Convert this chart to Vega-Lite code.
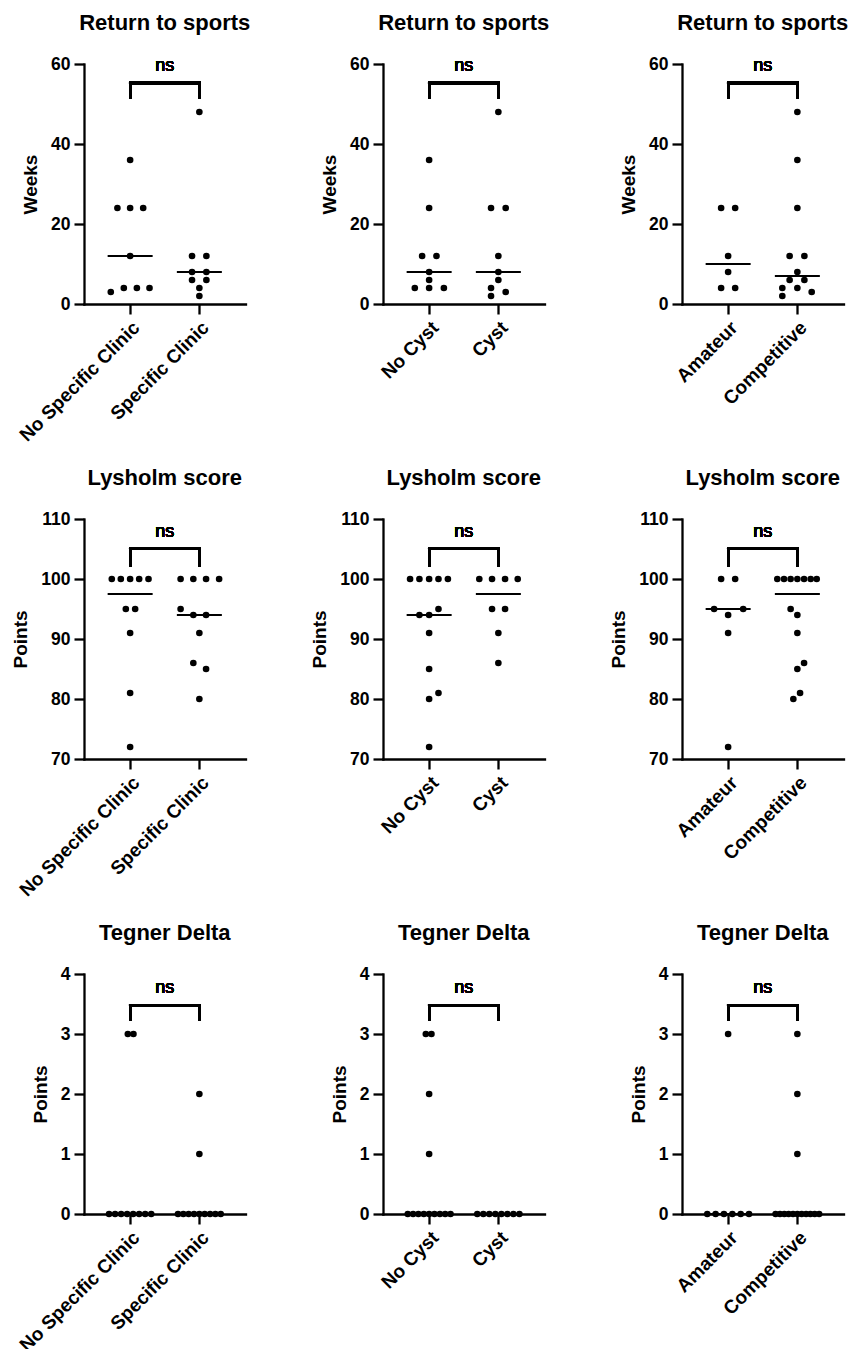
{
"$schema": "https://vega.github.io/schema/vega-lite/v6.json",
"padding": {"left": 11, "top": 12, "right": 5, "bottom": 5},
"background": "white",
"datasets": {
"a1": [
{"g":"No Specific Clinic","v":36,"j":0},{"g":"No Specific Clinic","v":24,"j":-12.7},{"g":"No Specific Clinic","v":24,"j":0},{"g":"No Specific Clinic","v":24,"j":13},{"g":"No Specific Clinic","v":12,"j":0},{"g":"No Specific Clinic","v":4,"j":-6.3},{"g":"No Specific Clinic","v":4,"j":6.7},{"g":"No Specific Clinic","v":4,"j":19.3},{"g":"No Specific Clinic","v":3,"j":-19.3},
{"g":"Specific Clinic","v":48,"j":0},{"g":"Specific Clinic","v":12,"j":-7.3},{"g":"Specific Clinic","v":12,"j":7},{"g":"Specific Clinic","v":8,"j":-7.3},{"g":"Specific Clinic","v":8,"j":7},{"g":"Specific Clinic","v":6,"j":-7.3},{"g":"Specific Clinic","v":6,"j":7},{"g":"Specific Clinic","v":4,"j":0},{"g":"Specific Clinic","v":2,"j":0}],
"a2": [
{"g":"No Cyst","v":36,"j":0},{"g":"No Cyst","v":24,"j":0},{"g":"No Cyst","v":12,"j":-7},{"g":"No Cyst","v":12,"j":7.3},{"g":"No Cyst","v":8,"j":0},{"g":"No Cyst","v":6,"j":0},{"g":"No Cyst","v":4,"j":-14.3},{"g":"No Cyst","v":4,"j":0},{"g":"No Cyst","v":4,"j":14.7},
{"g":"Cyst","v":48,"j":0},{"g":"Cyst","v":24,"j":-7.3},{"g":"Cyst","v":24,"j":7.3},{"g":"Cyst","v":12,"j":0},{"g":"Cyst","v":8,"j":0},{"g":"Cyst","v":6,"j":0},{"g":"Cyst","v":4,"j":-7.3},{"g":"Cyst","v":3,"j":7.3},{"g":"Cyst","v":2,"j":-7.3}],
"a3": [
{"g":"Amateur","v":24,"j":-7},{"g":"Amateur","v":24,"j":7},{"g":"Amateur","v":12,"j":0},{"g":"Amateur","v":8,"j":0},{"g":"Amateur","v":4,"j":-7},{"g":"Amateur","v":4,"j":7},
{"g":"Competitive","v":48,"j":0},{"g":"Competitive","v":36,"j":0},{"g":"Competitive","v":24,"j":0},{"g":"Competitive","v":12,"j":-7.7},{"g":"Competitive","v":12,"j":7},{"g":"Competitive","v":8,"j":0},{"g":"Competitive","v":6,"j":-7.7},{"g":"Competitive","v":6,"j":7},{"g":"Competitive","v":4,"j":-15},{"g":"Competitive","v":4,"j":0},{"g":"Competitive","v":3,"j":14.3},{"g":"Competitive","v":2,"j":-15}],
"b1": [
{"g":"No Specific Clinic","v":100,"j":-18.3},{"g":"No Specific Clinic","v":100,"j":-9.3},{"g":"No Specific Clinic","v":100,"j":0},{"g":"No Specific Clinic","v":100,"j":9},{"g":"No Specific Clinic","v":100,"j":18.3},{"g":"No Specific Clinic","v":95,"j":-4.3},{"g":"No Specific Clinic","v":95,"j":5},{"g":"No Specific Clinic","v":91,"j":0},{"g":"No Specific Clinic","v":81,"j":0},{"g":"No Specific Clinic","v":72,"j":0},
{"g":"Specific Clinic","v":100,"j":-18.7},{"g":"Specific Clinic","v":100,"j":-6},{"g":"Specific Clinic","v":100,"j":6.7},{"g":"Specific Clinic","v":100,"j":19.7},{"g":"Specific Clinic","v":95,"j":-18.7},{"g":"Specific Clinic","v":94,"j":-6},{"g":"Specific Clinic","v":94,"j":6.7},{"g":"Specific Clinic","v":91,"j":0},{"g":"Specific Clinic","v":86,"j":-6},{"g":"Specific Clinic","v":85,"j":6.7},{"g":"Specific Clinic","v":80,"j":0}],
"b2": [
{"g":"No Cyst","v":100,"j":-19},{"g":"No Cyst","v":100,"j":-9.7},{"g":"No Cyst","v":100,"j":0},{"g":"No Cyst","v":100,"j":9.3},{"g":"No Cyst","v":100,"j":18.7},{"g":"No Cyst","v":95,"j":9.3},{"g":"No Cyst","v":94,"j":-9.7},{"g":"No Cyst","v":94,"j":0},{"g":"No Cyst","v":91,"j":0},{"g":"No Cyst","v":85,"j":0},{"g":"No Cyst","v":81,"j":9.3},{"g":"No Cyst","v":80,"j":0},{"g":"No Cyst","v":72,"j":0},
{"g":"Cyst","v":100,"j":-19},{"g":"Cyst","v":100,"j":-6.3},{"g":"Cyst","v":100,"j":6.7},{"g":"Cyst","v":100,"j":19.3},{"g":"Cyst","v":95,"j":-6.3},{"g":"Cyst","v":95,"j":6.7},{"g":"Cyst","v":91,"j":0},{"g":"Cyst","v":86,"j":0}],
"b3": [
{"g":"Amateur","v":100,"j":-7},{"g":"Amateur","v":100,"j":7},{"g":"Amateur","v":95,"j":-14},{"g":"Amateur","v":95,"j":15},{"g":"Amateur","v":94,"j":0},{"g":"Amateur","v":91,"j":0},{"g":"Amateur","v":72,"j":0},
{"g":"Competitive","v":100,"j":-20},{"g":"Competitive","v":100,"j":-13.3},{"g":"Competitive","v":100,"j":-6.7},{"g":"Competitive","v":100,"j":0},{"g":"Competitive","v":100,"j":6.7},{"g":"Competitive","v":100,"j":13.3},{"g":"Competitive","v":100,"j":19.3},{"g":"Competitive","v":95,"j":-6.7},{"g":"Competitive","v":94,"j":0},{"g":"Competitive","v":91,"j":0},{"g":"Competitive","v":86,"j":6.7},{"g":"Competitive","v":85,"j":0},{"g":"Competitive","v":81,"j":2.7},{"g":"Competitive","v":80,"j":-4}],
"c1": [
{"g":"No Specific Clinic","v":3,"j":-2.3},{"g":"No Specific Clinic","v":3,"j":3.3},{"g":"No Specific Clinic","v":0,"j":-21},{"g":"No Specific Clinic","v":0,"j":-15},{"g":"No Specific Clinic","v":0,"j":-9},{"g":"No Specific Clinic","v":0,"j":-3},{"g":"No Specific Clinic","v":0,"j":3},{"g":"No Specific Clinic","v":0,"j":9},{"g":"No Specific Clinic","v":0,"j":15},{"g":"No Specific Clinic","v":0,"j":21},
{"g":"Specific Clinic","v":2,"j":0},{"g":"Specific Clinic","v":1,"j":0},{"g":"Specific Clinic","v":0,"j":-21.3},{"g":"Specific Clinic","v":0,"j":-16},{"g":"Specific Clinic","v":0,"j":-10.7},{"g":"Specific Clinic","v":0,"j":-5.3},{"g":"Specific Clinic","v":0,"j":0},{"g":"Specific Clinic","v":0,"j":5.3},{"g":"Specific Clinic","v":0,"j":10.7},{"g":"Specific Clinic","v":0,"j":16},{"g":"Specific Clinic","v":0,"j":21.3}],
"c2": [
{"g":"No Cyst","v":3,"j":-3.3},{"g":"No Cyst","v":3,"j":2.3},{"g":"No Cyst","v":2,"j":0},{"g":"No Cyst","v":1,"j":0},{"g":"No Cyst","v":0,"j":-21.3},{"g":"No Cyst","v":0,"j":-16},{"g":"No Cyst","v":0,"j":-10.7},{"g":"No Cyst","v":0,"j":-5.3},{"g":"No Cyst","v":0,"j":0},{"g":"No Cyst","v":0,"j":5.3},{"g":"No Cyst","v":0,"j":10.7},{"g":"No Cyst","v":0,"j":16},{"g":"No Cyst","v":0,"j":21.3},
{"g":"Cyst","v":0,"j":-21},{"g":"Cyst","v":0,"j":-15},{"g":"Cyst","v":0,"j":-9},{"g":"Cyst","v":0,"j":-3},{"g":"Cyst","v":0,"j":3},{"g":"Cyst","v":0,"j":9},{"g":"Cyst","v":0,"j":15},{"g":"Cyst","v":0,"j":21}],
"c3": [
{"g":"Amateur","v":3,"j":0},{"g":"Amateur","v":0,"j":-20.8},{"g":"Amateur","v":0,"j":-12.5},{"g":"Amateur","v":0,"j":-4.2},{"g":"Amateur","v":0,"j":4.2},{"g":"Amateur","v":0,"j":12.5},{"g":"Amateur","v":0,"j":20.8},
{"g":"Competitive","v":3,"j":0},{"g":"Competitive","v":2,"j":0},{"g":"Competitive","v":1,"j":0},{"g":"Competitive","v":0,"j":-21.7},{"g":"Competitive","v":0,"j":-17.3},{"g":"Competitive","v":0,"j":-13},{"g":"Competitive","v":0,"j":-8.7},{"g":"Competitive","v":0,"j":-4.3},{"g":"Competitive","v":0,"j":0},{"g":"Competitive","v":0,"j":4.3},{"g":"Competitive","v":0,"j":8.7},{"g":"Competitive","v":0,"j":13},{"g":"Competitive","v":0,"j":17.3},{"g":"Competitive","v":0,"j":21.7}]
},
"columns": 3,
"bounds": "flush",
"spacing": {"row": 215, "column": 137},
"concat": [
{"title": "Return to sports", "width": 161.5, "height": 240, "data": {"name": "a1"},
 "layer": [
  {"mark": {"type": "circle", "size": 44, "color": "black", "opacity": 1},
   "encoding": {"x": {"field": "g", "type": "nominal", "scale": {"domain": ["No Specific Clinic", "Specific Clinic"], "paddingInner": 0, "paddingOuter": 0.1667}, "axis": {"title": null}},
    "xOffset": {"field": "j", "type": "quantitative", "scale": {"domain": [-34.5, 34.5]}},
    "y": {"field": "v", "type": "quantitative", "scale": {"domain": [0, 60], "nice": false, "zero": false}, "axis": {"title": "Weeks", "values": [0, 20, 40, 60], "format": "d"}}}},
  {"mark": {"type": "tick", "size": 45, "thickness": 2.2, "color": "black"},
   "encoding": {"x": {"field": "g", "type": "nominal"}, "y": {"aggregate": "median", "field": "v", "type": "quantitative"}}},
  {"mark": {"type": "rule", "strokeWidth": 2.3, "strokeCap": "square", "color": "black"},
   "encoding": {"x": {"datum": "No Specific Clinic", "type": "nominal", "bandPosition": 0.5}, "x2": {"datum": "Specific Clinic"}, "y": {"datum": 55.25, "type": "quantitative"}}},
  {"mark": {"type": "rule", "strokeWidth": 2.3, "strokeCap": "square", "color": "black"},
   "encoding": {"x": {"datum": "No Specific Clinic", "type": "nominal", "bandPosition": 0.5}, "y": {"datum": 51.6, "type": "quantitative"}, "y2": {"datum": 55.25}}},
  {"mark": {"type": "rule", "strokeWidth": 2.3, "strokeCap": "square", "color": "black"},
   "encoding": {"x": {"datum": "Specific Clinic", "type": "nominal", "bandPosition": 0.5}, "y": {"datum": 51.6, "type": "quantitative"}, "y2": {"datum": 55.25}}},
  {"mark": {"type": "text", "text": "ns", "fontSize": 18, "fontWeight": "normal", "baseline": "alphabetic", "color": "black"},
   "encoding": {"x": {"datum": "No Specific Clinic", "type": "nominal", "bandPosition": 1}, "y": {"datum": 58.3, "type": "quantitative"}}}
 ]},
{"title": "Return to sports", "width": 161.5, "height": 240, "data": {"name": "a2"},
 "layer": [
  {"mark": {"type": "circle", "size": 44, "color": "black", "opacity": 1},
   "encoding": {"x": {"field": "g", "type": "nominal", "scale": {"domain": ["No Cyst", "Cyst"], "paddingInner": 0, "paddingOuter": 0.1667}, "axis": {"title": null}},
    "xOffset": {"field": "j", "type": "quantitative", "scale": {"domain": [-34.5, 34.5]}},
    "y": {"field": "v", "type": "quantitative", "scale": {"domain": [0, 60], "nice": false, "zero": false}, "axis": {"title": "Weeks", "values": [0, 20, 40, 60], "format": "d"}}}},
  {"mark": {"type": "tick", "size": 45, "thickness": 2.2, "color": "black"},
   "encoding": {"x": {"field": "g", "type": "nominal"}, "y": {"aggregate": "median", "field": "v", "type": "quantitative"}}},
  {"mark": {"type": "rule", "strokeWidth": 2.3, "strokeCap": "square", "color": "black"},
   "encoding": {"x": {"datum": "No Cyst", "type": "nominal", "bandPosition": 0.5}, "x2": {"datum": "Cyst"}, "y": {"datum": 55.25, "type": "quantitative"}}},
  {"mark": {"type": "rule", "strokeWidth": 2.3, "strokeCap": "square", "color": "black"},
   "encoding": {"x": {"datum": "No Cyst", "type": "nominal", "bandPosition": 0.5}, "y": {"datum": 51.6, "type": "quantitative"}, "y2": {"datum": 55.25}}},
  {"mark": {"type": "rule", "strokeWidth": 2.3, "strokeCap": "square", "color": "black"},
   "encoding": {"x": {"datum": "Cyst", "type": "nominal", "bandPosition": 0.5}, "y": {"datum": 51.6, "type": "quantitative"}, "y2": {"datum": 55.25}}},
  {"mark": {"type": "text", "text": "ns", "fontSize": 18, "fontWeight": "normal", "baseline": "alphabetic", "color": "black"},
   "encoding": {"x": {"datum": "No Cyst", "type": "nominal", "bandPosition": 1}, "y": {"datum": 58.3, "type": "quantitative"}}}
 ]},
{"title": "Return to sports", "width": 161.5, "height": 240, "data": {"name": "a3"},
 "layer": [
  {"mark": {"type": "circle", "size": 44, "color": "black", "opacity": 1},
   "encoding": {"x": {"field": "g", "type": "nominal", "scale": {"domain": ["Amateur", "Competitive"], "paddingInner": 0, "paddingOuter": 0.1667}, "axis": {"title": null}},
    "xOffset": {"field": "j", "type": "quantitative", "scale": {"domain": [-34.5, 34.5]}},
    "y": {"field": "v", "type": "quantitative", "scale": {"domain": [0, 60], "nice": false, "zero": false}, "axis": {"title": "Weeks", "values": [0, 20, 40, 60], "format": "d"}}}},
  {"mark": {"type": "tick", "size": 45, "thickness": 2.2, "color": "black"},
   "encoding": {"x": {"field": "g", "type": "nominal"}, "y": {"aggregate": "median", "field": "v", "type": "quantitative"}}},
  {"mark": {"type": "rule", "strokeWidth": 2.3, "strokeCap": "square", "color": "black"},
   "encoding": {"x": {"datum": "Amateur", "type": "nominal", "bandPosition": 0.5}, "x2": {"datum": "Competitive"}, "y": {"datum": 55.25, "type": "quantitative"}}},
  {"mark": {"type": "rule", "strokeWidth": 2.3, "strokeCap": "square", "color": "black"},
   "encoding": {"x": {"datum": "Amateur", "type": "nominal", "bandPosition": 0.5}, "y": {"datum": 51.6, "type": "quantitative"}, "y2": {"datum": 55.25}}},
  {"mark": {"type": "rule", "strokeWidth": 2.3, "strokeCap": "square", "color": "black"},
   "encoding": {"x": {"datum": "Competitive", "type": "nominal", "bandPosition": 0.5}, "y": {"datum": 51.6, "type": "quantitative"}, "y2": {"datum": 55.25}}},
  {"mark": {"type": "text", "text": "ns", "fontSize": 18, "fontWeight": "normal", "baseline": "alphabetic", "color": "black"},
   "encoding": {"x": {"datum": "Amateur", "type": "nominal", "bandPosition": 1}, "y": {"datum": 58.3, "type": "quantitative"}}}
 ]},
{"title": "Lysholm score", "width": 161.5, "height": 240, "data": {"name": "b1"},
 "layer": [
  {"mark": {"type": "circle", "size": 44, "color": "black", "opacity": 1},
   "encoding": {"x": {"field": "g", "type": "nominal", "scale": {"domain": ["No Specific Clinic", "Specific Clinic"], "paddingInner": 0, "paddingOuter": 0.1667}, "axis": {"title": null}},
    "xOffset": {"field": "j", "type": "quantitative", "scale": {"domain": [-34.5, 34.5]}},
    "y": {"field": "v", "type": "quantitative", "scale": {"domain": [70, 110], "nice": false, "zero": false}, "axis": {"title": "Points", "values": [70, 80, 90, 100, 110], "format": "d"}}}},
  {"mark": {"type": "tick", "size": 45, "thickness": 2.2, "color": "black"},
   "encoding": {"x": {"field": "g", "type": "nominal"}, "y": {"aggregate": "median", "field": "v", "type": "quantitative"}}},
  {"mark": {"type": "rule", "strokeWidth": 2.3, "strokeCap": "square", "color": "black"},
   "encoding": {"x": {"datum": "No Specific Clinic", "type": "nominal", "bandPosition": 0.5}, "x2": {"datum": "Specific Clinic"}, "y": {"datum": 105.05, "type": "quantitative"}}},
  {"mark": {"type": "rule", "strokeWidth": 2.3, "strokeCap": "square", "color": "black"},
   "encoding": {"x": {"datum": "No Specific Clinic", "type": "nominal", "bandPosition": 0.5}, "y": {"datum": 102.25, "type": "quantitative"}, "y2": {"datum": 105.05}}},
  {"mark": {"type": "rule", "strokeWidth": 2.3, "strokeCap": "square", "color": "black"},
   "encoding": {"x": {"datum": "Specific Clinic", "type": "nominal", "bandPosition": 0.5}, "y": {"datum": 102.25, "type": "quantitative"}, "y2": {"datum": 105.05}}},
  {"mark": {"type": "text", "text": "ns", "fontSize": 18, "fontWeight": "normal", "baseline": "alphabetic", "color": "black"},
   "encoding": {"x": {"datum": "No Specific Clinic", "type": "nominal", "bandPosition": 1}, "y": {"datum": 107, "type": "quantitative"}}}
 ]},
{"title": "Lysholm score", "width": 161.5, "height": 240, "data": {"name": "b2"},
 "layer": [
  {"mark": {"type": "circle", "size": 44, "color": "black", "opacity": 1},
   "encoding": {"x": {"field": "g", "type": "nominal", "scale": {"domain": ["No Cyst", "Cyst"], "paddingInner": 0, "paddingOuter": 0.1667}, "axis": {"title": null}},
    "xOffset": {"field": "j", "type": "quantitative", "scale": {"domain": [-34.5, 34.5]}},
    "y": {"field": "v", "type": "quantitative", "scale": {"domain": [70, 110], "nice": false, "zero": false}, "axis": {"title": "Points", "values": [70, 80, 90, 100, 110], "format": "d"}}}},
  {"mark": {"type": "tick", "size": 45, "thickness": 2.2, "color": "black"},
   "encoding": {"x": {"field": "g", "type": "nominal"}, "y": {"aggregate": "median", "field": "v", "type": "quantitative"}}},
  {"mark": {"type": "rule", "strokeWidth": 2.3, "strokeCap": "square", "color": "black"},
   "encoding": {"x": {"datum": "No Cyst", "type": "nominal", "bandPosition": 0.5}, "x2": {"datum": "Cyst"}, "y": {"datum": 105.05, "type": "quantitative"}}},
  {"mark": {"type": "rule", "strokeWidth": 2.3, "strokeCap": "square", "color": "black"},
   "encoding": {"x": {"datum": "No Cyst", "type": "nominal", "bandPosition": 0.5}, "y": {"datum": 102.25, "type": "quantitative"}, "y2": {"datum": 105.05}}},
  {"mark": {"type": "rule", "strokeWidth": 2.3, "strokeCap": "square", "color": "black"},
   "encoding": {"x": {"datum": "Cyst", "type": "nominal", "bandPosition": 0.5}, "y": {"datum": 102.25, "type": "quantitative"}, "y2": {"datum": 105.05}}},
  {"mark": {"type": "text", "text": "ns", "fontSize": 18, "fontWeight": "normal", "baseline": "alphabetic", "color": "black"},
   "encoding": {"x": {"datum": "No Cyst", "type": "nominal", "bandPosition": 1}, "y": {"datum": 107, "type": "quantitative"}}}
 ]},
{"title": "Lysholm score", "width": 161.5, "height": 240, "data": {"name": "b3"},
 "layer": [
  {"mark": {"type": "circle", "size": 44, "color": "black", "opacity": 1},
   "encoding": {"x": {"field": "g", "type": "nominal", "scale": {"domain": ["Amateur", "Competitive"], "paddingInner": 0, "paddingOuter": 0.1667}, "axis": {"title": null}},
    "xOffset": {"field": "j", "type": "quantitative", "scale": {"domain": [-34.5, 34.5]}},
    "y": {"field": "v", "type": "quantitative", "scale": {"domain": [70, 110], "nice": false, "zero": false}, "axis": {"title": "Points", "values": [70, 80, 90, 100, 110], "format": "d"}}}},
  {"mark": {"type": "tick", "size": 45, "thickness": 2.2, "color": "black"},
   "encoding": {"x": {"field": "g", "type": "nominal"}, "y": {"aggregate": "median", "field": "v", "type": "quantitative"}}},
  {"mark": {"type": "rule", "strokeWidth": 2.3, "strokeCap": "square", "color": "black"},
   "encoding": {"x": {"datum": "Amateur", "type": "nominal", "bandPosition": 0.5}, "x2": {"datum": "Competitive"}, "y": {"datum": 105.05, "type": "quantitative"}}},
  {"mark": {"type": "rule", "strokeWidth": 2.3, "strokeCap": "square", "color": "black"},
   "encoding": {"x": {"datum": "Amateur", "type": "nominal", "bandPosition": 0.5}, "y": {"datum": 102.25, "type": "quantitative"}, "y2": {"datum": 105.05}}},
  {"mark": {"type": "rule", "strokeWidth": 2.3, "strokeCap": "square", "color": "black"},
   "encoding": {"x": {"datum": "Competitive", "type": "nominal", "bandPosition": 0.5}, "y": {"datum": 102.25, "type": "quantitative"}, "y2": {"datum": 105.05}}},
  {"mark": {"type": "text", "text": "ns", "fontSize": 18, "fontWeight": "normal", "baseline": "alphabetic", "color": "black"},
   "encoding": {"x": {"datum": "Amateur", "type": "nominal", "bandPosition": 1}, "y": {"datum": 107, "type": "quantitative"}}}
 ]},
{"title": "Tegner Delta", "width": 161.5, "height": 240, "data": {"name": "c1"},
 "layer": [
  {"mark": {"type": "circle", "size": 44, "color": "black", "opacity": 1},
   "encoding": {"x": {"field": "g", "type": "nominal", "scale": {"domain": ["No Specific Clinic", "Specific Clinic"], "paddingInner": 0, "paddingOuter": 0.1667}, "axis": {"title": null}},
    "xOffset": {"field": "j", "type": "quantitative", "scale": {"domain": [-34.5, 34.5]}},
    "y": {"field": "v", "type": "quantitative", "scale": {"domain": [0, 4], "nice": false, "zero": false}, "axis": {"title": "Points", "values": [0, 1, 2, 3, 4], "format": "d"}}}},
  {"mark": {"type": "tick", "size": 45, "thickness": 2.2, "color": "black"},
   "encoding": {"x": {"field": "g", "type": "nominal"}, "y": {"aggregate": "median", "field": "v", "type": "quantitative"}}},
  {"mark": {"type": "rule", "strokeWidth": 2.3, "strokeCap": "square", "color": "black"},
   "encoding": {"x": {"datum": "No Specific Clinic", "type": "nominal", "bandPosition": 0.5}, "x2": {"datum": "Specific Clinic"}, "y": {"datum": 3.48, "type": "quantitative"}}},
  {"mark": {"type": "rule", "strokeWidth": 2.3, "strokeCap": "square", "color": "black"},
   "encoding": {"x": {"datum": "No Specific Clinic", "type": "nominal", "bandPosition": 0.5}, "y": {"datum": 3.24, "type": "quantitative"}, "y2": {"datum": 3.48}}},
  {"mark": {"type": "rule", "strokeWidth": 2.3, "strokeCap": "square", "color": "black"},
   "encoding": {"x": {"datum": "Specific Clinic", "type": "nominal", "bandPosition": 0.5}, "y": {"datum": 3.24, "type": "quantitative"}, "y2": {"datum": 3.48}}},
  {"mark": {"type": "text", "text": "ns", "fontSize": 18, "fontWeight": "normal", "baseline": "alphabetic", "color": "black"},
   "encoding": {"x": {"datum": "No Specific Clinic", "type": "nominal", "bandPosition": 1}, "y": {"datum": 3.68, "type": "quantitative"}}}
 ]},
{"title": "Tegner Delta", "width": 161.5, "height": 240, "data": {"name": "c2"},
 "layer": [
  {"mark": {"type": "circle", "size": 44, "color": "black", "opacity": 1},
   "encoding": {"x": {"field": "g", "type": "nominal", "scale": {"domain": ["No Cyst", "Cyst"], "paddingInner": 0, "paddingOuter": 0.1667}, "axis": {"title": null}},
    "xOffset": {"field": "j", "type": "quantitative", "scale": {"domain": [-34.5, 34.5]}},
    "y": {"field": "v", "type": "quantitative", "scale": {"domain": [0, 4], "nice": false, "zero": false}, "axis": {"title": "Points", "values": [0, 1, 2, 3, 4], "format": "d"}}}},
  {"mark": {"type": "tick", "size": 45, "thickness": 2.2, "color": "black"},
   "encoding": {"x": {"field": "g", "type": "nominal"}, "y": {"aggregate": "median", "field": "v", "type": "quantitative"}}},
  {"mark": {"type": "rule", "strokeWidth": 2.3, "strokeCap": "square", "color": "black"},
   "encoding": {"x": {"datum": "No Cyst", "type": "nominal", "bandPosition": 0.5}, "x2": {"datum": "Cyst"}, "y": {"datum": 3.48, "type": "quantitative"}}},
  {"mark": {"type": "rule", "strokeWidth": 2.3, "strokeCap": "square", "color": "black"},
   "encoding": {"x": {"datum": "No Cyst", "type": "nominal", "bandPosition": 0.5}, "y": {"datum": 3.24, "type": "quantitative"}, "y2": {"datum": 3.48}}},
  {"mark": {"type": "rule", "strokeWidth": 2.3, "strokeCap": "square", "color": "black"},
   "encoding": {"x": {"datum": "Cyst", "type": "nominal", "bandPosition": 0.5}, "y": {"datum": 3.24, "type": "quantitative"}, "y2": {"datum": 3.48}}},
  {"mark": {"type": "text", "text": "ns", "fontSize": 18, "fontWeight": "normal", "baseline": "alphabetic", "color": "black"},
   "encoding": {"x": {"datum": "No Cyst", "type": "nominal", "bandPosition": 1}, "y": {"datum": 3.68, "type": "quantitative"}}}
 ]},
{"title": "Tegner Delta", "width": 161.5, "height": 240, "data": {"name": "c3"},
 "layer": [
  {"mark": {"type": "circle", "size": 44, "color": "black", "opacity": 1},
   "encoding": {"x": {"field": "g", "type": "nominal", "scale": {"domain": ["Amateur", "Competitive"], "paddingInner": 0, "paddingOuter": 0.1667}, "axis": {"title": null}},
    "xOffset": {"field": "j", "type": "quantitative", "scale": {"domain": [-34.5, 34.5]}},
    "y": {"field": "v", "type": "quantitative", "scale": {"domain": [0, 4], "nice": false, "zero": false}, "axis": {"title": "Points", "values": [0, 1, 2, 3, 4], "format": "d"}}}},
  {"mark": {"type": "tick", "size": 45, "thickness": 2.2, "color": "black"},
   "encoding": {"x": {"field": "g", "type": "nominal"}, "y": {"aggregate": "median", "field": "v", "type": "quantitative"}}},
  {"mark": {"type": "rule", "strokeWidth": 2.3, "strokeCap": "square", "color": "black"},
   "encoding": {"x": {"datum": "Amateur", "type": "nominal", "bandPosition": 0.5}, "x2": {"datum": "Competitive"}, "y": {"datum": 3.48, "type": "quantitative"}}},
  {"mark": {"type": "rule", "strokeWidth": 2.3, "strokeCap": "square", "color": "black"},
   "encoding": {"x": {"datum": "Amateur", "type": "nominal", "bandPosition": 0.5}, "y": {"datum": 3.24, "type": "quantitative"}, "y2": {"datum": 3.48}}},
  {"mark": {"type": "rule", "strokeWidth": 2.3, "strokeCap": "square", "color": "black"},
   "encoding": {"x": {"datum": "Competitive", "type": "nominal", "bandPosition": 0.5}, "y": {"datum": 3.24, "type": "quantitative"}, "y2": {"datum": 3.48}}},
  {"mark": {"type": "text", "text": "ns", "fontSize": 18, "fontWeight": "normal", "baseline": "alphabetic", "color": "black"},
   "encoding": {"x": {"datum": "Amateur", "type": "nominal", "bandPosition": 1}, "y": {"datum": 3.68, "type": "quantitative"}}}
 ]}
],
"config": {
 "font": "Liberation Sans",
 "view": {"stroke": null},
 "title": {"fontSize": 22, "fontWeight": "bold", "color": "black", "anchor": "middle", "offset": 20, "font": "Liberation Sans"},
 "axis": {"grid": false, "domainColor": "black", "domainWidth": 2.3, "domainCap": "square", "tickColor": "black", "tickWidth": 2.3, "tickSize": 10, "labelColor": "black", "labelFontWeight": "bold", "titleColor": "black", "titleFontWeight": "bold", "labelFont": "Liberation Sans", "titleFont": "Liberation Sans"},
 "axisY": {"labelFontSize": 17.5, "titleFontSize": 19, "labelPadding": 4, "titlePadding": 10},
 "axisX": {"labelFontSize": 19, "labelAngle": -45, "labelPadding": 4}
}
}
